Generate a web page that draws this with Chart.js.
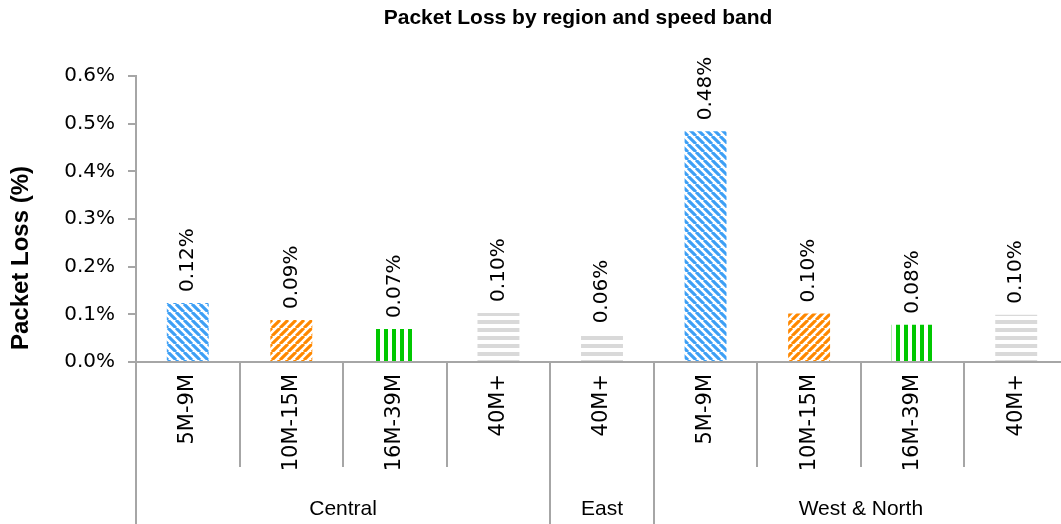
<!DOCTYPE html>
<html>
<head>
<meta charset="utf-8">
<script src="https://cdn.jsdelivr.net/npm/chart.js@4.4.1/dist/chart.umd.min.js"></script>
<style>
  html, body { margin: 0; padding: 0; background: #fff; overflow: hidden; }
  #wrap { width: 1061px; height: 524px; overflow: hidden; }
  canvas { display: block; }
</style>
</head>
<body>
<div id="wrap"><canvas id="c" width="1070" height="524"></canvas></div>
<script>
// ---- data ----
const speedBands = ['5M-9M', '10M-15M', '16M-39M', '40M+', '40M+', '5M-9M', '10M-15M', '16M-39M', '40M+'];
const regions = ['Central', 'Central', 'Central', 'Central', 'East', 'West & North', 'West & North', 'West & North', 'West & North'];
const packetLoss = [0.124, 0.088, 0.069, 0.103, 0.058, 0.484, 0.102, 0.078, 0.099];
const yTicks = [0.0, 0.1, 0.2, 0.3, 0.4, 0.5, 0.6];
const chartTitle = 'Packet Loss by region and speed band';
const yTitle = 'Packet Loss (%)';

// ---- patterns ----
function makePattern(kind) {
  const t = document.createElement('canvas');
  const g = t.getContext('2d');
  if (kind === 'blue' || kind === 'orange') {
    const s = 8;
    t.width = s; t.height = s;
    g.strokeStyle = kind === 'blue' ? '#3d9ff5' : '#ff8800';
    g.lineWidth = 3.1;
    g.beginPath();
    for (let k = -1; k <= 1; k++) {
      if (kind === 'blue') { g.moveTo(k * s, 0); g.lineTo(k * s + s, s); }
      else { g.moveTo(k * s, s); g.lineTo(k * s + s, 0); }
    }
    g.stroke();
  } else if (kind === 'green') {
    t.width = 8; t.height = 4;
    g.fillStyle = '#00c800';
    g.fillRect(0, 0, 4, 4);
  } else {
    t.width = 4; t.height = 8;
    g.fillStyle = '#d9d9d9';
    g.fillRect(0, 0, 4, 4);
  }
  return document.getElementById('c').getContext('2d').createPattern(t, 'repeat');
}
const bandPattern = {
  '5M-9M': makePattern('blue'),
  '10M-15M': makePattern('orange'),
  '16M-39M': makePattern('green'),
  '40M+': makePattern('gray')
};

const axisGray = '#a6a6a6';

const decorPlugin = {
  id: 'decor',
  afterDatasetsDraw(chart) {
    const ctx = chart.ctx;
    const meta = chart.getDatasetMeta(0);
    ctx.save();
    ctx.fillStyle = '#000';
    ctx.font = '20px "DejaVu Sans"';
    ctx.textAlign = 'left';
    ctx.textBaseline = 'middle';
    meta.data.forEach((bar, i) => {
      ctx.save();
      ctx.translate(bar.x, bar.y - 11);
      ctx.rotate(-Math.PI / 2);
      ctx.fillText(packetLoss[i].toFixed(2) + '%', 0, 0);
      ctx.restore();
    });
    ctx.restore();
  },
  afterDraw(chart) {
    const ctx = chart.ctx;
    const x = chart.scales.x;
    const area = chart.chartArea;
    const bottom = chart.height;
    ctx.save();
    ctx.strokeStyle = axisGray;
    ctx.lineWidth = 2;
    // separators
    for (let i = 0; i <= speedBands.length; i++) {
      const px = Math.round(x.getPixelForValue(i - 0.5));
      const isGroup = i === 0 || i === speedBands.length || regions[i] !== regions[i - 1];
      ctx.beginPath();
      ctx.moveTo(px, area.bottom);
      ctx.lineTo(px, isGroup ? bottom : area.bottom + 105);
      ctx.stroke();
    }
    // group labels
    ctx.fillStyle = '#000';
    ctx.font = '21px "Liberation Sans"';
    ctx.textAlign = 'center';
    ctx.textBaseline = 'middle';
    let start = 0;
    for (let i = 1; i <= regions.length; i++) {
      if (i === regions.length || regions[i] !== regions[start]) {
        const x0 = x.getPixelForValue(start - 0.5);
        const x1 = x.getPixelForValue(i - 0.5);
        ctx.fillText(regions[start], (x0 + x1) / 2, 509);
        start = i;
      }
    }
    // title
    ctx.font = 'bold 21px "Liberation Sans"';
    ctx.fillText(chartTitle, 578, 18);
    // y title
    ctx.save();
    ctx.translate(21, 258);
    ctx.rotate(-Math.PI / 2);
    ctx.font = 'bold 24px "Liberation Sans"';
    ctx.fillText(yTitle, 0, 0);
    ctx.restore();
    ctx.restore();
  }
};

new Chart(document.getElementById('c'), {
  type: 'bar',
  data: {
    labels: speedBands,
    datasets: [{
      data: packetLoss,
      backgroundColor: speedBands.map(b => bandPattern[b]),
      borderWidth: 0,
      barPercentage: 0.405,
      categoryPercentage: 1.0
    }]
  },
  options: {
    responsive: false,
    animation: false,
    devicePixelRatio: 1,
    layout: { padding: { top: 76, right: 2, bottom: 0, left: 0 } },
    plugins: { legend: { display: false }, tooltip: { enabled: false }, title: { display: false } },
    scales: {
      x: {
        type: 'category',
        offset: true,
        grid: { display: false, drawTicks: false },
        border: { display: true, color: axisGray, width: 2 },
        ticks: {
          minRotation: 90, maxRotation: 90, autoSkip: false,
          padding: 12,
          color: '#000',
          font: { family: 'DejaVu Sans', size: 21 }
        },
        afterFit(scale) { scale.height = 162; }
      },
      y: {
        min: 0, max: 0.6,
        afterBuildTicks(scale) { scale.ticks = yTicks.map(v => ({ value: v })); },
        grid: { drawOnChartArea: false, drawTicks: true, tickLength: 8, color: axisGray, lineWidth: 2 },
        border: { display: true, color: axisGray, width: 2 },
        ticks: {
          padding: 13,
          color: '#000',
          font: { family: 'DejaVu Sans', size: 20 },
          callback: v => Number(v).toFixed(1) + '%'
        },
        afterFit(scale) { scale.width = 136; }
      }
    }
  },
  plugins: [decorPlugin]
});
</script>
</body>
</html>
